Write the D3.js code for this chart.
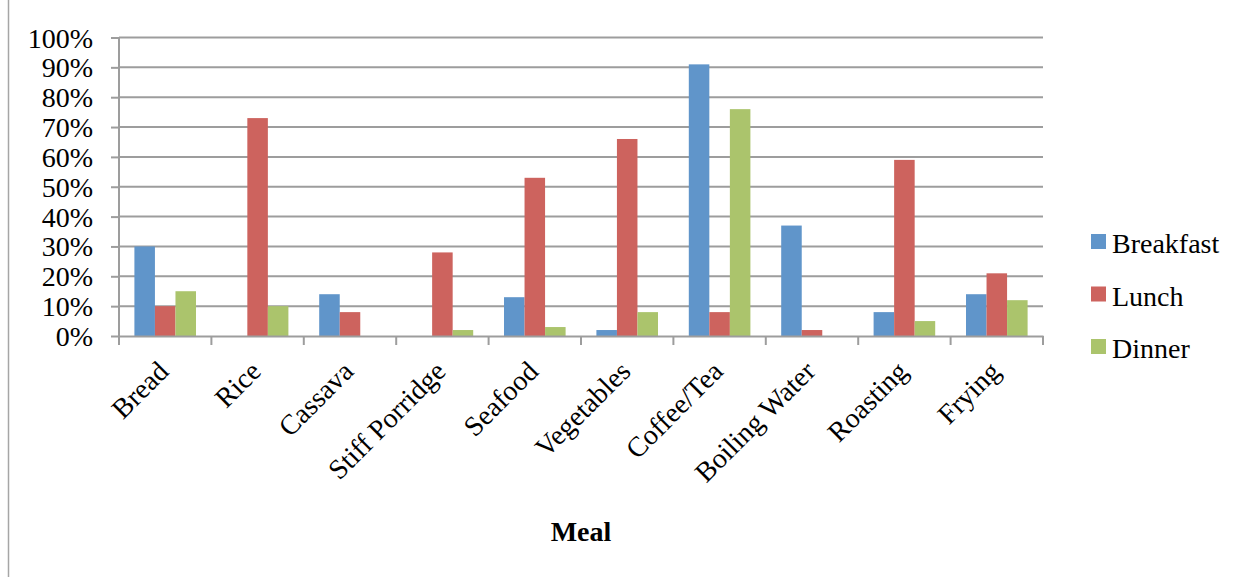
<!DOCTYPE html>
<html><head><meta charset="utf-8">
<script src="https://cdn.jsdelivr.net/npm/d3@7"></script>
<style>body{margin:0;background:#fff}svg{display:block;font-family:"Liberation Serif",serif}</style>
</head><body><svg id="c" width="1253" height="577"></svg>
<script>
const categories=["Bread","Rice","Cassava","Stiff Porridge","Seafood","Vegetables","Coffee/Tea","Boiling Water","Roasting","Frying"];
const seriesNames=["Breakfast","Lunch","Dinner"];
const breakfast=[30,0,14,0,13,2,91,37,8,14];
const lunch=[10,73,8,28,53,66,8,2,59,21];
const dinner=[15,10,0,2,3,8,76,0,5,12];
const yTicks=[0,10,20,30,40,50,60,70,80,90,100];
const colors=["#6095CA","#CD635E","#ABC46C"];
const xTitle="Meal";

const svg=d3.select("#c");
const L=119,R=1043,T=37.5,B=336;
const FS=28;
const x=d3.scaleBand().domain(categories).range([L,R]).paddingInner(0).paddingOuter(0);
const xs=d3.scaleBand().domain(seriesNames).range([0,x.bandwidth()]).paddingOuter(0.75).paddingInner(0);
const y=d3.scaleLinear().domain([0,100]).range([B,T]);

// frame left line
svg.append("line").attr("x1",8.5).attr("x2",8.5).attr("y1",0).attr("y2",577).attr("stroke","#a6a6a6").attr("stroke-width",1.5);

// gridlines
const gy=svg.append("g").attr("transform",`translate(${L},0)`)
  .call(d3.axisLeft(y).tickValues(yTicks).tickSize(8).tickFormat(d=>d+"%"));
gy.select(".domain").remove();
gy.selectAll(".tick line").attr("stroke","#9d9d9d").attr("stroke-width",2);
gy.selectAll(".tick text").attr("font-family","Liberation Serif").attr("font-size",FS).attr("fill","#000").attr("x",-26).attr("dy","0.34em");
svg.append("g").selectAll("line").data(yTicks.filter(d=>d>0)).join("line")
  .attr("x1",L).attr("x2",R).attr("y1",d=>y(d)).attr("y2",d=>y(d)).attr("stroke","#9d9d9d").attr("stroke-width",2);

// bars
const series=[breakfast,lunch,dinner];
series.forEach((vals,si)=>{
  svg.append("g").selectAll("rect").data(vals).join("rect")
    .attr("x",(d,i)=>x(categories[i])+xs(seriesNames[si]))
    .attr("width",xs.bandwidth())
    .attr("y",d=>y(d)).attr("height",d=>B-y(d))
    .attr("fill",colors[si]);
});

// y axis line
svg.append("line").attr("x1",L).attr("x2",L).attr("y1",T).attr("y2",B).attr("stroke","#9d9d9d").attr("stroke-width",2);
// x axis
const gx=svg.append("g").attr("transform",`translate(0,${B})`)
  .call(d3.axisBottom(x).tickSize(0).tickFormat(""));
gx.select(".domain").attr("stroke","#9d9d9d").attr("stroke-width",2);
const edges=categories.map(c=>x(c)).concat([R]);
svg.append("g").selectAll("line").data(edges).join("line")
  .attr("x1",d=>d).attr("x2",d=>d).attr("y1",B).attr("y2",B+9).attr("stroke","#9d9d9d").attr("stroke-width",2);

// x labels
svg.append("g").selectAll("text").data(categories).join("text")
  .attr("transform",d=>`translate(${x(d)+x.bandwidth()/2+5},${B+37}) rotate(-45)`)
  .attr("text-anchor","end").attr("font-size",FS).attr("fill","#000").text(d=>d);

// x title
svg.append("text").attr("x",(L+R)/2).attr("y",541).attr("text-anchor","middle")
  .attr("font-size",FS).attr("font-weight","bold").text(xTitle);

// legend
const lg=svg.append("g").selectAll("g").data(seriesNames).join("g")
  .attr("transform",(d,i)=>`translate(1091,${234+i*52.5})`);
lg.append("rect").attr("width",15).attr("height",15).attr("fill",(d,i)=>colors[i]);
lg.append("text").attr("x",21).attr("y",19).attr("font-size",FS).text(d=>d);
</script></body></html>
